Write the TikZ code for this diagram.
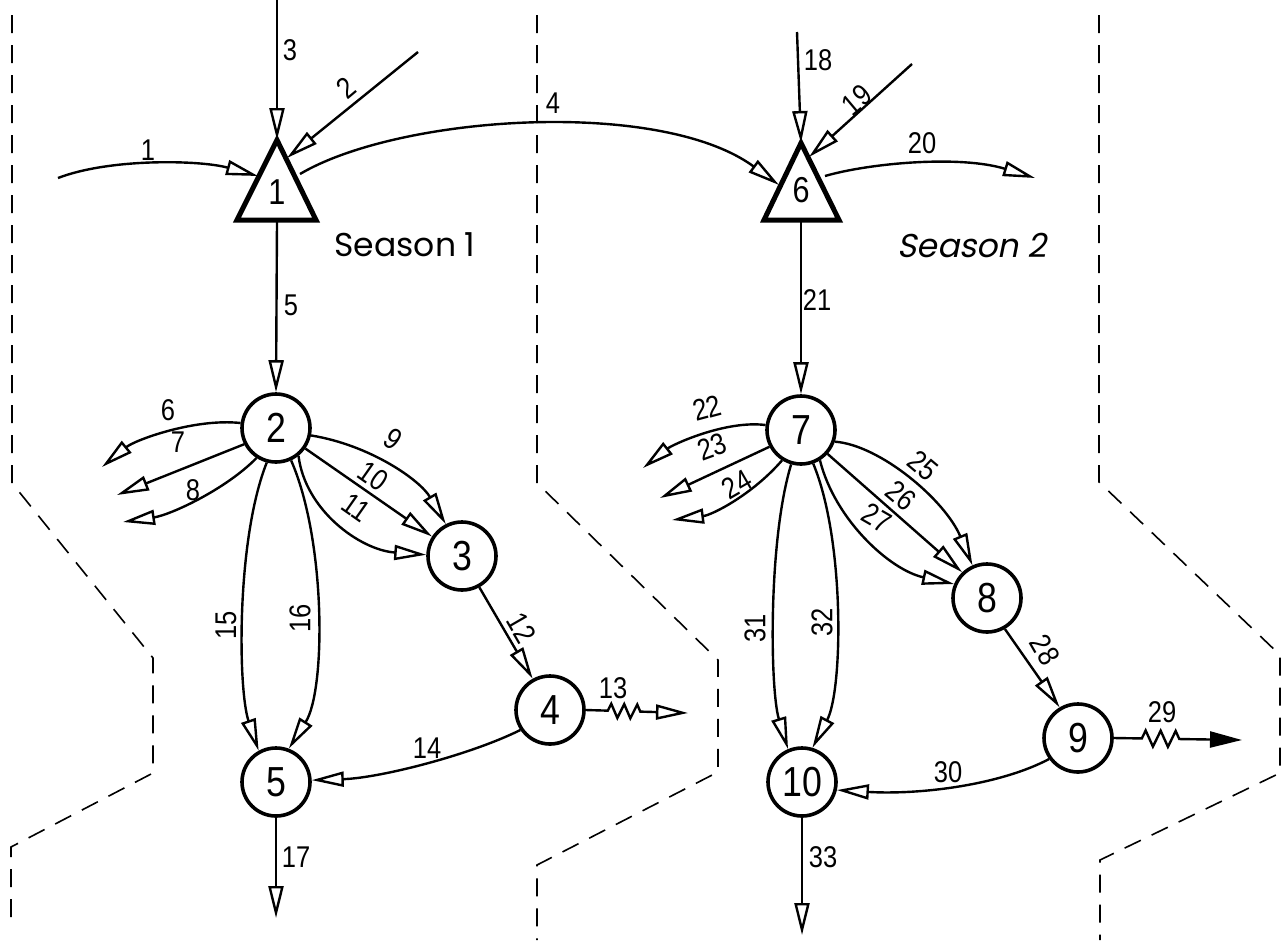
\documentclass[tikz,border=0pt]{standalone}
\usepackage{fontspec}
\usetikzlibrary{arrows.meta,decorations.pathmorphing}
\newfontfamily\numfont[FakeStretch=0.85]{Liberation Sans}
\newfontfamily\seasonfont{Poppins}
\newfontfamily\seasonslant[FakeSlant=0.2]{Poppins}
\begin{document}
\begin{tikzpicture}[x=1pt,y=-1pt,
  circ/.style={circle, draw, line width=3.6pt, minimum size=68pt, inner sep=0pt, font=\numfont\fontsize{42}{42}\selectfont},
  tri/.style={draw, line width=5pt, line join=miter},
  conn/.style={line width=2.4pt, -{Triangle[open, length=32pt, width=15pt, line width=2.4pt]}},
  connf/.style={line width=2.4pt, -{Triangle[length=32pt, width=16pt]}},
  lab/.style={font=\numfont\fontsize{30}{30}\selectfont, inner sep=0pt},
  trilab/.style={font=\numfont\fontsize{36}{36}\selectfont, inner sep=0pt},
  bound/.style={line width=1.6pt, dash pattern=on 18pt off 12pt},
  zz/.style={decorate, decoration={zigzag, segment length=13pt, amplitude=7pt, pre length=22pt, post length=45pt}},
  zzb/.style={decorate, decoration={zigzag, segment length=15pt, amplitude=8pt, pre length=28pt, post length=57pt}}
]
\useasboundingbox (0,0) rectangle (1284,945);

% boundaries
\draw[bound] (12,15) -- (12,483) -- (153,658) -- (153,773) -- (11,847) -- (11,920);
\draw[bound] (537,15) -- (537,483) -- (718,660) -- (718,772) -- (537,865) -- (537,940);
\draw[bound] (1099,15) -- (1099,482) -- (1280,655) -- (1280,773) -- (1100,860) -- (1100,940);

% triangles
\coordinate (t1a) at (277,140); \coordinate (t1l) at (237,220); \coordinate (t1r) at (316,220);
\draw[tri] (t1a) -- (t1l) -- (t1r) -- cycle;
\node[trilab] (t1) at (277,192) {1};
\coordinate (t6a) at (801,143); \coordinate (t6l) at (764,220); \coordinate (t6r) at (839,220);
\draw[tri] (t6a) -- (t6l) -- (t6r) -- cycle;
\node[trilab] (t6) at (801,190) {6};

% circles
\node[circ] (n2) at (276,428) {2};
\node[circ] (n3) at (462,556) {3};
\node[circ] (n4) at (550,710) {4};
\node[circ] (n5) at (276,782) {5};
\node[circ] (n7) at (801,430) {7};
\node[circ] (n8) at (987,598) {8};
\node[circ] (n9) at (1078,738) {9};
\node[circ] (n10) at (802,782) {10};

% season texts
\node[font=\seasonfont\fontsize{33}{33}\selectfont, inner sep=0pt] (season1) at (405,245) {Season 1};
\node[font=\seasonslant\fontsize{33}{33}\selectfont, inner sep=0pt] (season2) at (972,245) {Season 2};

% free ends
\coordinate (s1) at (58,178);
\coordinate (t1w) at (258,176);
\coordinate (s3) at (277,0);
\coordinate (s2) at (418,52);
\coordinate (t1e2) at (287,158);
\coordinate (t1e4) at (300,174);
\coordinate (t6w) at (779,185);
\coordinate (t1b) at (277,222);
\coordinate (s18) at (797,32);
\coordinate (s19) at (912,64);
\coordinate (t6e19) at (809,157);
\coordinate (t6e20) at (825,176);
\coordinate (e20) at (1035,178);
\coordinate (t6b) at (801,222);
\coordinate (e6) at (102,467);
\coordinate (e7) at (117,495);
\coordinate (e8) at (123,522);
\coordinate (e13) at (688,713);
\coordinate (e17) at (276,918);
\coordinate (e22) at (643,468);
\coordinate (e23) at (660,498);
\coordinate (e24) at (672,520);
\coordinate (e29) at (1242,740);
\coordinate (e33) at (802,935);

% season 1 connectors
\draw[conn] (s1) .. controls (110,158) and (200,160) .. (t1w);
\draw[conn] (s3) -- (t1a);
\draw[conn] (s2) -- (t1e2);
\draw[conn] (t1e4) .. controls (400,115) and (660,98) .. (t6w);
\draw[conn] (t1b) -- (n2.north);
\draw[conn] (n2.172) .. controls (195,418) and (135,440) .. (e6);
\draw[conn] (n2.207) -- (e7);
\draw[conn] (n2.237) .. controls (225,490) and (170,515) .. (e8);
\draw[conn] (n2.348) .. controls (370,445) and (420,480) .. (n3.117);
\draw[conn] (n2.325) -- (n3.147);
\draw[conn] (n2.309) .. controls (305,510) and (360,550) .. (n3.178);
\draw[conn] (n3.299) -- (n4.119);
\draw[conn, zz] (n4.east) -- (e13);
\draw[conn] (n4.214) .. controls (470,755) and (380,778) .. (n5.3);
\draw[conn] (n2.255) .. controls (236,540) and (238,690) .. (n5.119);
\draw[conn] (n2.295) .. controls (326,540) and (326,690) .. (n5.69);
\draw[conn] (n5.south) -- (e17);

% season 2 connectors
\draw[conn] (s18) -- (t6a);
\draw[conn] (s19) -- (t6e19);
\draw[conn] (t6e20) .. controls (870,163) and (960,155) .. (e20);
\draw[conn] (t6b) -- (n7.north);
\draw[conn] (n7.172) .. controls (725,420) and (672,445) .. (e22);
\draw[conn] (n7.208) -- (e23);
\draw[conn] (n7.238) .. controls (752,495) and (712,515) .. (e24);
\draw[conn] (n7.341) .. controls (880,445) and (945,500) .. (n8.114);
\draw[conn] (n7.318) -- (n8.134);
\draw[conn] (n7.302) .. controls (835,520) and (890,570) .. (n8.157);
\draw[conn] (n8.300) -- (n9.121);
\draw[connf, zzb] (n9.east) -- (e29);
\draw[conn] (n9.216) .. controls (1000,785) and (920,795) .. (n10.347);
\draw[conn] (n7.254) .. controls (768,540) and (770,690) .. (n10.113);
\draw[conn] (n7.290) .. controls (845,540) and (843,690) .. (n10.73);
\draw[conn] (n10.south) -- (e33);

% labels
\node[lab] (l1) at (148,150) {1};
\node[lab, rotate=40] (l2) at (346,88) {2};
\node[lab] (l3) at (290,50) {3};
\node[lab] (l4) at (553,103) {4};
\node[lab] (l5) at (291,305) {5};
\node[lab] (l6) at (168,410) {6};
\node[lab] (l7) at (178,442) {7};
\node[lab] (l8) at (193,490) {8};
\node[lab, rotate=-35] (l9) at (393,439) {9};
\node[lab, rotate=-35] (l10) at (373,476) {10};
\node[lab, rotate=-35] (l11) at (356,508) {11};
\node[lab, rotate=-60] (l12) at (522,628) {12};
\node[lab] (l13) at (613,688) {13};
\node[lab] (l14) at (427,748) {14};
\node[lab, rotate=90] (l15) at (226,625) {15};
\node[lab, rotate=90] (l16) at (300,618) {16};
\node[lab] (l17) at (296,857) {17};
\node[lab] (l18) at (818,60) {18};
\node[lab, rotate=40] (l19) at (857,100) {19};
\node[lab] (l20) at (922,143) {20};
\node[lab] (l21) at (817,300) {21};
\node[lab, rotate=15] (l22) at (707,408) {22};
\node[lab, rotate=20] (l23) at (712,447) {23};
\node[lab, rotate=30] (l24) at (737,484) {24};
\node[lab, rotate=-40] (l25) at (923,466) {25};
\node[lab, rotate=-40] (l26) at (901,496) {26};
\node[lab, rotate=-30] (l27) at (877,518) {27};
\node[lab, rotate=-60] (l28) at (1045,650) {28};
\node[lab] (l29) at (1162,712) {29};
\node[lab] (l30) at (948,772) {30};
\node[lab, rotate=90] (l31) at (755,628) {31};
\node[lab, rotate=90] (l32) at (822,622) {32};
\node[lab] (l33) at (823,857) {33};
\end{tikzpicture}
\end{document}
